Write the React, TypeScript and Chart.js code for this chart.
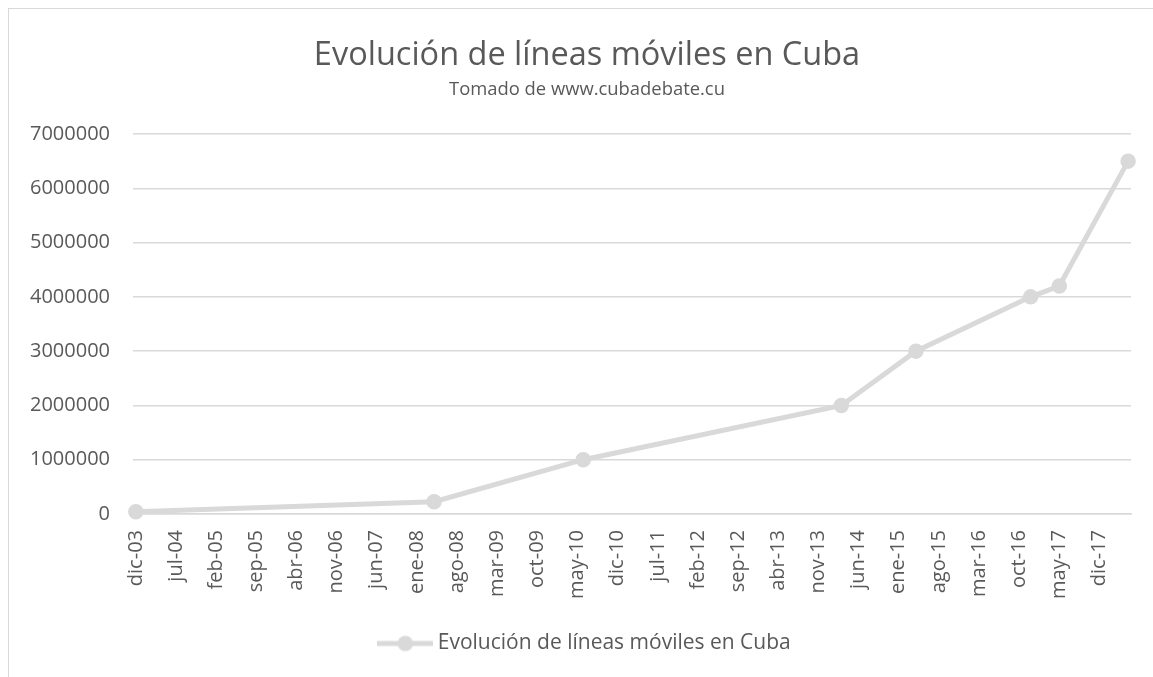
import React, { useEffect, useRef } from 'react';
import { Chart, registerables } from 'chart.js';

Chart.register(...registerables);

const titleText = 'Evolución de líneas móviles en Cuba';
const subtitleText = 'Tomado de www.cubadebate.cu';
const seriesName = 'Evolución de líneas móviles en Cuba';

// Dates of observations (year-month) and number of mobile lines
const dates = ['2003-12', '2008-04', '2010-06', '2014-03', '2015-04', '2016-12', '2017-05', '2018-05'];
const lines = [43000, 226000, 1000000, 2000000, 3000000, 4000000, 4200000, 6500000];

// Axis definition
const axisStart = '2003-12';
const axisEnd = '2018-05';
const tickStepMonths = 7;
const tickLabels = [
  'dic-03', 'jul-04', 'feb-05', 'sep-05', 'abr-06', 'nov-06', 'jun-07', 'ene-08', 'ago-08',
  'mar-09', 'oct-09', 'may-10', 'dic-10', 'jul-11', 'feb-12', 'sep-12', 'abr-13', 'nov-13',
  'jun-14', 'ene-15', 'ago-15', 'mar-16', 'oct-16', 'may-17', 'dic-17',
];
const yMin = 0;
const yMax = 7000000;
const yStep = 1000000;

const TEXT = '#595959';
const GRID = '#d9d9d9';
const LINE = '#d9d9d9';
const FONT = "'Open Sans', sans-serif";

function monthIndex(d: string): number {
  const [y, m] = d.split('-').map(Number);
  const [y0, m0] = axisStart.split('-').map(Number);
  return (y - y0) * 12 + (m - m0);
}

function makeLegendImage(): HTMLCanvasElement {
  const c = document.createElement('canvas');
  c.width = 56;
  c.height = 20;
  const ctx = c.getContext('2d')!;
  ctx.strokeStyle = LINE;
  ctx.lineWidth = 5;
  ctx.beginPath();
  ctx.moveTo(0, 10);
  ctx.lineTo(56, 10);
  ctx.stroke();
  ctx.fillStyle = LINE;
  ctx.beginPath();
  ctx.arc(28, 10, 7.75, 0, Math.PI * 2);
  ctx.fill();
  return c;
}

// Let the y-axis labels extend past the scale box (avoid label clipping)
const unclipYLabels = {
  id: 'unclipYLabels',
  afterLayout(chart: any) {
    if (chart.scales && chart.scales.y) chart.scales.y.left = 0;
  },
};

export default function App() {
  const ref = useRef<HTMLCanvasElement | null>(null);

  useEffect(() => {
    if (!ref.current) return;
    const legendImg = makeLegendImage();
    const points = dates.map((d, i) => ({ x: monthIndex(d), y: lines[i] }));
    const chart = new Chart(ref.current, {
      type: 'line',
      data: {
        datasets: [
          {
            label: seriesName,
            data: points,
            borderColor: LINE,
            backgroundColor: LINE,
            borderWidth: 5,
            pointRadius: 7,
            pointBorderWidth: 1.5,
            pointBackgroundColor: LINE,
            pointBorderColor: LINE,
            tension: 0,
            clip: false as any,
          },
        ],
      },
      plugins: [unclipYLabels],
      options: {
        animation: false,
        responsive: false,
        devicePixelRatio: 1,
        layout: { padding: { left: 34, right: 22, top: 0, bottom: 13 } },
        font: { family: FONT },
        plugins: {
          tooltip: { enabled: false },
          title: {
            display: true,
            text: titleText,
            color: TEXT,
            font: { family: FONT, size: 32.5, weight: 'normal' as any, lineHeight: 1.2 },
            padding: { top: 27, bottom: 0 },
          },
          subtitle: {
            display: true,
            text: subtitleText,
            color: TEXT,
            font: { family: FONT, size: 18.4, weight: 'normal' as any, lineHeight: 1.2 },
            padding: { top: 3.96, bottom: 32.96 },
          },
          legend: {
            display: true,
            position: 'bottom',
            labels: {
              color: TEXT,
              font: { family: FONT, size: 21 },
              padding: 10,
              usePointStyle: true,
              pointStyleWidth: 44,
              generateLabels: () => [
                {
                  text: seriesName,
                  fillStyle: LINE,
                  strokeStyle: LINE,
                  lineWidth: 0,
                  pointStyle: legendImg as any,
                  hidden: false,
                  datasetIndex: 0,
                  fontColor: TEXT,
                } as any,
              ],
            },
          },
        },
        scales: {
          x: {
            type: 'linear',
            min: monthIndex(axisStart) - 0.5,
            max: monthIndex(axisEnd) + 0.5,
            grid: { display: false, drawTicks: false },
            border: { display: true, color: GRID, width: 1.5 },
            afterBuildTicks: (scale: any) => {
              scale.ticks = tickLabels.map((_, i) => ({ value: i * tickStepMonths }));
            },
            afterFit: (scale: any) => {
              scale.height = 109;
            },
            ticks: {
              autoSkip: false,
              minRotation: 90,
              maxRotation: 90,
              padding: 16,
              color: TEXT,
              font: { family: FONT, size: 20 },
              callback: (v: any) => {
                const i = Math.round(Number(v) / tickStepMonths);
                return tickLabels[i] ?? '';
              },
            },
          },
          y: {
            type: 'linear',
            min: yMin,
            max: yMax,
            grid: { color: GRID, lineWidth: 1.5, drawTicks: false },
            border: { display: false },
            afterFit: (scale: any) => {
              scale.width = 90;
            },
            ticks: {
              stepSize: yStep,
              padding: 23,
              color: TEXT,
              font: { family: FONT, size: 20 },
              callback: (v: any) => String(v),
            },
          },
        },
      },
    });
    return () => chart.destroy();
  }, []);

  return (
    <div
      style={{
        position: 'fixed',
        left: 8,
        top: 8,
        width: 1145,
        height: 669,
        borderTop: `1px solid ${GRID}`,
        borderLeft: `1px solid ${GRID}`,
        boxSizing: 'border-box',
        background: '#fff',
      }}
    >
      <canvas ref={ref} width={1144} height={668} style={{ display: 'block' }} />
    </div>
  );
}
